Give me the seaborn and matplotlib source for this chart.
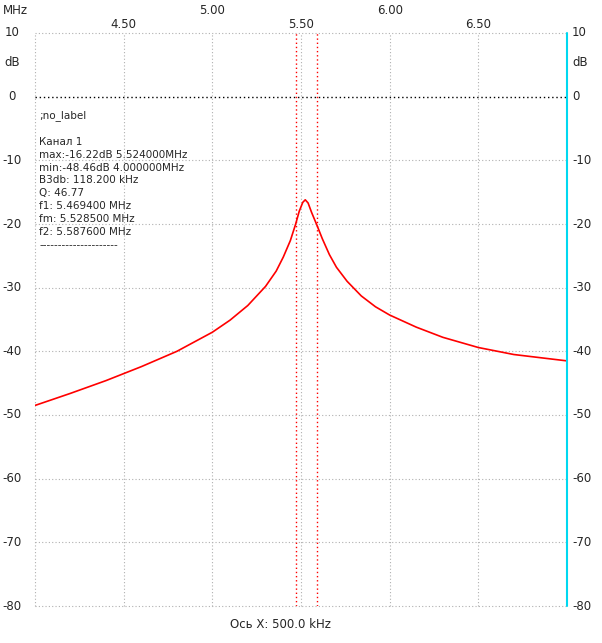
import matplotlib
matplotlib.use("Agg")
import matplotlib.pyplot as plt
import seaborn as sns

sns.set_theme(style="white")
plt.rcParams['font.family'] = ['DejaVu Sans']

# response curve (MHz, dB)
freq_mhz = [4.00, 4.20, 4.40, 4.60, 4.80, 5.00, 5.10, 5.20, 5.30, 5.36, 5.40, 5.44,
            5.47, 5.49, 5.51, 5.524, 5.54, 5.56, 5.59, 5.62, 5.66, 5.70, 5.76, 5.84,
            5.92, 6.00, 6.15, 6.30, 6.50, 6.70, 6.85, 7.00]
level_db = [-48.5, -46.6, -44.6, -42.4, -40.0, -37.0, -35.1, -32.8, -29.8, -27.4, -25.2, -22.6,
            -20.0, -18.0, -16.6, -16.2, -16.7, -18.2, -20.2, -22.3, -24.8, -26.8, -29.0, -31.3,
            -33.0, -34.3, -36.2, -37.8, -39.4, -40.5, -41.0, -41.5]
f1, f2 = 5.4694, 5.5876
top_row1 = [5.00, 6.00]
top_row2 = [4.50, 5.50, 6.50]
y_ticks = [10, 0, -10, -20, -30, -40, -50, -60, -70, -80]
info_lines = [";no_label", "", "Канал 1", "max:-16.22dB 5.524000MHz", "min:-48.46dB 4.000000MHz",
              "B3db: 118.200 kHz", "Q: 46.77", "f1: 5.469400 MHz", "fm: 5.528500 MHz",
              "f2: 5.587600 MHz", "---------------------"]

W, H = 602, 643
L, R, T, B = 35, 567, 33, 606
fig = plt.figure(figsize=(W / 100, H / 100), dpi=100)
ax = fig.add_axes([L / W, 1 - B / H, (R - L) / W, (B - T) / H])
ax.set_xlim(4.0, 7.0)
ax.set_ylim(-80, 10)

for x in [4.0, 4.5, 5.0, 5.5, 6.0, 6.5]:
    ax.axvline(x, color="#b0b0b0", ls=(0, (1, 2)), lw=0.8, clip_on=False)
for y in y_ticks:
    if y == 0:
        ax.axhline(y, color="black", ls=(0, (1, 2)), lw=1)
    else:
        ax.axhline(y, color="#b0b0b0", ls=(0, (1, 2)), lw=0.8, clip_on=False)
for f in (f1, f2):
    ax.axvline(f, color="red", ls=(0, (1, 2)), lw=1)
ax.axvline(7.0, color="#00d8f0", lw=1.5, clip_on=False, zorder=5)

sns.lineplot(x=freq_mhz, y=level_db, color="red", lw=1.2, ax=ax)

for s in ax.spines.values():
    s.set_visible(False)
ax.set_xticks([])
ax.set_yticks([])

fs = 8.5
ph = B - T
for y in y_ticks:
    yy = (y + 80) / 90
    fig.text(12 / W, 1 - (B - yy * ph) / H, str(y), ha="center", va="center", fontsize=fs)
    fig.text(572 / W, 1 - (B - yy * ph) / H, str(y), ha="left", va="center", fontsize=fs)
fig.text(12 / W, 1 - 62 / H, "dB", ha="center", va="center", fontsize=fs)
fig.text(572 / W, 1 - 62 / H, "dB", ha="left", va="center", fontsize=fs)
fig.text(3 / W, 1 - 10 / H, "MHz", ha="left", va="center", fontsize=fs)
for x in top_row1:
    ax.text(x, 1 + 23 / ph, f"{x:.2f}", transform=ax.get_xaxis_transform(), ha="center", va="center", fontsize=fs)
for x in top_row2:
    ax.text(x, 1 + 9 / ph, f"{x:.2f}", transform=ax.get_xaxis_transform(), ha="center", va="center", fontsize=fs)
fig.text(280 / W, 1 - 624 / H, "Ось X: 500.0 kHz", ha="center", va="center", fontsize=fs)

for i, line in enumerate(info_lines):
    fig.text(39 / W, 1 - (116 + i * 12.9) / H, line, ha="left", va="center", fontsize=7.5)

fig.savefig("out.png", dpi=100, facecolor="white")
